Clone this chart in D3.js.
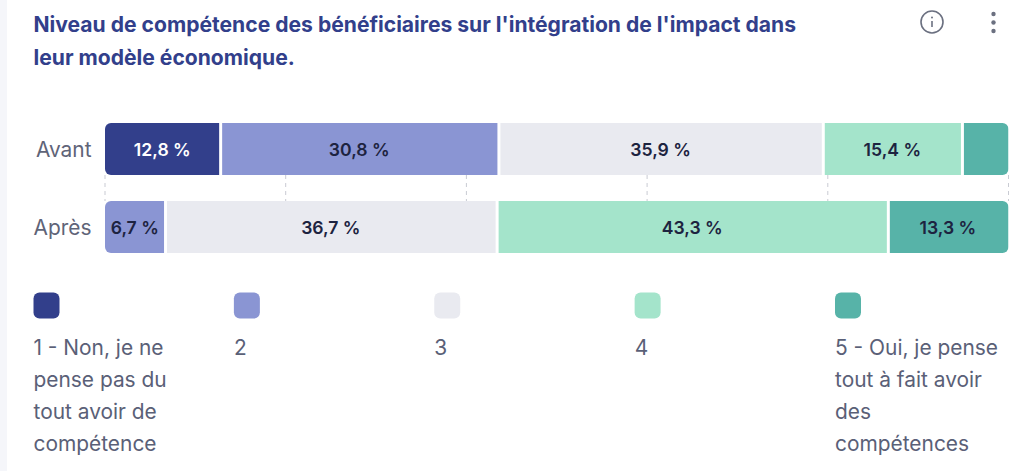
<!DOCTYPE html>
<html>
<head>
<meta charset="utf-8">
<script src="https://cdn.jsdelivr.net/npm/d3@7"></script>
<style>
  html, body { margin: 0; padding: 0; background: #fff; overflow: hidden; }
  text { font-family: Inter, "Noto Sans", sans-serif; }
</style>
</head>
<body>
<div id="chart"></div>
<script>
var width = 1024;
var height = 471;

var titleLines = ["Niveau de compétence des bénéficiaires sur l'intégration de l'impact dans", "leur modèle économique."];
var periods = ["Avant", "Après"];
var levels = ["1", "2", "3", "4", "5"];
var avant = [12.8, 30.8, 35.9, 15.4, 5.1];
var apres = [0, 6.7, 36.7, 43.3, 13.3];
var colors = ["#323f8b", "#8a95d3", "#e9eaf0", "#a4e4cb", "#57b3a8"];
var labelColors = ["#ffffff", "#1d2340", "#1d2340", "#1d2340", "#1d2340"];
var legendLabels = [
  ["1 - Non, je ne", "pense pas du", "tout avoir de", "compétence"],
  ["2"],
  ["3"],
  ["4"],
  ["5 - Oui, je pense", "tout à fait avoir", "des", "compétences"]
];
var hiddenBelow = 6; // labels of very small segments are not shown

var svg = d3.select("#chart").append("svg")
  .attr("width", width)
  .attr("height", height)
  .style("display", "block");

// card edge on the left
svg.append("rect").attr("width", 7).attr("height", height).attr("fill", "#f5f6fa");

// title
svg.append("g").selectAll("text").data(titleLines).join("text")
  .attr("x", 33.5)
  .attr("y", function(d, i) { return 32 + i * 33; })
  .attr("fill", "#323f8b")
  .attr("font-size", 21.1)
  .attr("font-weight", 700)
  .text(function(d) { return d; });

// info icon
var info = svg.append("g").attr("transform", "translate(932,22)");
info.append("circle").attr("r", 11).attr("fill", "none").attr("stroke", "#6b7080").attr("stroke-width", 1.6);
info.append("circle").attr("cy", -4.5).attr("r", 1).attr("fill", "#6b7080");
info.append("line").attr("y1", -1).attr("y2", 5).attr("stroke", "#6b7080").attr("stroke-width", 1.6);

// menu icon
svg.append("g").selectAll("circle").data([14, 22.5, 31]).join("circle")
  .attr("cx", 993.5)
  .attr("cy", function(d) { return d; })
  .attr("r", 2.2)
  .attr("fill", "#6b7080");

// scales
var x = d3.scaleLinear().domain([0, 100]).range([105, 1008.5]);
// 52 px bars with a 26 px gap
var y = d3.scaleBand().domain(periods).range([123, 253]).paddingInner(26 / 78).paddingOuter(0);

// dashed grid
svg.append("g").selectAll("line").data(x.ticks(5)).join("line")
  .attr("x1", function(d) { return x(d); })
  .attr("x2", function(d) { return x(d); })
  .attr("y1", y("Avant") + y.bandwidth())
  .attr("y2", y("Après"))
  .attr("stroke", "#c9cbd3")
  .attr("stroke-width", 1)
  .attr("stroke-dasharray", "4,4");

// row labels
svg.append("g").selectAll("text").data(periods).join("text")
  .attr("x", 91.5)
  .attr("y", function(d) { return y(d) + y.bandwidth() / 2 + 0.5; })
  .attr("dy", "0.35em")
  .attr("text-anchor", "end")
  .attr("fill", "#5f6478")
  .attr("font-size", 20.9)
  .text(function(d) { return d; });

// rounded ends of each bar
var defs = svg.append("defs");
periods.forEach(function(p, i) {
  defs.append("clipPath").attr("id", "row" + i).append("rect")
    .attr("x", x(0))
    .attr("y", y(p))
    .attr("width", x(100) - x(0))
    .attr("height", y.bandwidth())
    .attr("rx", 6);
});

// stacked segments
var rows = [avant, apres];
rows.forEach(function(values, i) {
  var rowName = periods[i];
  var cum = d3.cumsum(values);
  var segs = values.map(function(v, k) {
    return { value: v, level: levels[k], idx: k, start: cum[k] - v, end: cum[k] };
  }).filter(function(s) { return s.value > 0; });
  var first = segs[0].idx;
  var last = segs[segs.length - 1].idx;

  var g = svg.append("g").attr("clip-path", "url(#row" + i + ")");
  g.selectAll("rect").data(segs).join("rect")
    .attr("x", function(s) { return x(s.start) + (s.idx === first ? 0 : 1.5); })
    .attr("y", y(rowName))
    .attr("width", function(s) {
      return x(s.end) - x(s.start) - (s.idx === first ? 0 : 1.5) - (s.idx === last ? 0 : 1.5);
    })
    .attr("height", y.bandwidth())
    .attr("fill", function(s) { return colors[s.idx]; });

  svg.append("g").selectAll("text")
    .data(segs.filter(function(s) { return s.value >= hiddenBelow; }))
    .join("text")
    .attr("x", function(s) { return x((s.start + s.end) / 2) - 0.5; })
    .attr("y", y(rowName) + y.bandwidth() / 2 + 0.5)
    .attr("dy", "0.35em")
    .attr("text-anchor", "middle")
    .attr("fill", function(s) { return labelColors[s.idx]; })
    .attr("font-size", 17.6)
    .attr("font-weight", 600)
    .text(function(s) { return String(s.value).replace(".", ",") + " %"; });
});

// legend
var legendX = d3.scalePoint().domain(levels).range([33.5, 835]);
var legend = svg.append("g").selectAll("g").data(levels).join("g")
  .attr("transform", function(d) { return "translate(" + legendX(d) + ",0)"; });

legend.append("rect")
  .attr("y", 292.5)
  .attr("width", 26)
  .attr("height", 26)
  .attr("rx", 6)
  .attr("fill", function(d, i) { return colors[i]; });

legend.each(function(d, i) {
  d3.select(this).selectAll("text").data(legendLabels[i]).join("text")
    .attr("y", function(t, k) { return 354.5 + k * 32; })
    .attr("fill", "#5a6077")
    .attr("font-size", 20.9)
    .text(function(t) { return t; });
});
</script>
</body>
</html>
